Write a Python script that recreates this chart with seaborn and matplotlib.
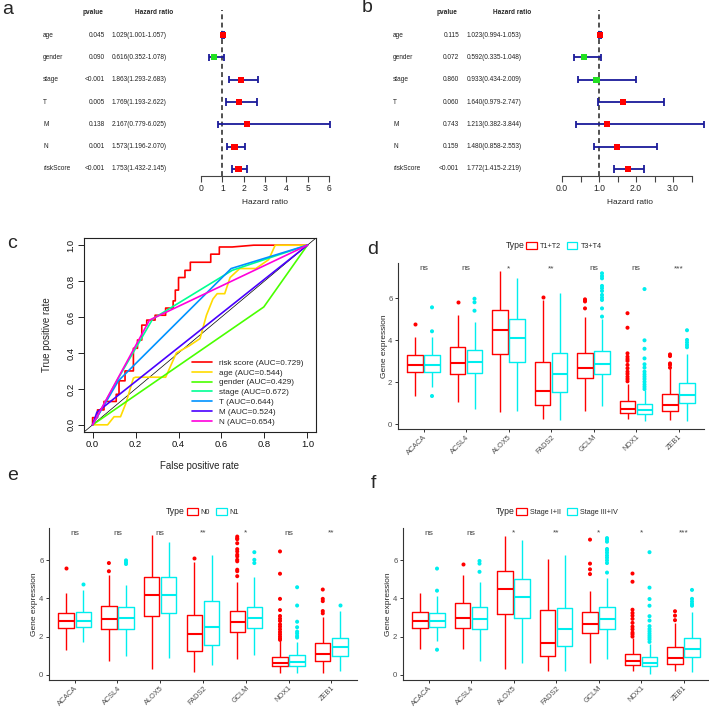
import numpy as np
import pandas as pd
import matplotlib
matplotlib.use("Agg")
import matplotlib.pyplot as plt
import matplotlib.transforms as mtrans
from matplotlib.patches import Patch
from matplotlib.lines import Line2D
import seaborn as sns

# ------------------------------------------------------------------ data
FOREST_VARS = ["age", "gender", "stage", "T", "M", "N", "riskScore"]
A_PVAL = ["0.045", "0.090", "<0.001", "0.005", "0.138", "0.001", "<0.001"]
A_HR = [1.029, 0.616, 1.863, 1.769, 2.167, 1.573, 1.753]
A_LO = [1.001, 0.352, 1.293, 1.193, 0.779, 1.196, 1.432]
A_HI = [1.057, 1.078, 2.683, 2.622, 6.025, 2.070, 2.145]
B_PVAL = ["0.115", "0.072", "0.860", "0.060", "0.743", "0.159", "<0.001"]
B_HR = [1.023, 0.592, 0.933, 1.640, 1.213, 1.480, 1.772]
B_LO = [0.994, 0.335, 0.434, 0.979, 0.382, 0.858, 1.415]
B_HI = [1.053, 1.048, 2.009, 2.747, 3.844, 2.553, 2.219]
A_TICKS = [0, 1, 2, 3, 4, 5, 6]
A_TICKLABELS = ["0", "1", "2", "3", "4", "5", "6"]
B_TICKS = [0, 0.5, 1.0, 1.5, 2.0, 2.5, 3.0, 3.5]
B_TICKLABELS = ["0.0", "", "1.0", "", "2.0", "", "3.0", ""]

ROC_LABELS = ["risk score (AUC=0.729)", "age (AUC=0.544)", "gender (AUC=0.429)",
              "stage (AUC=0.672)", "T (AUC=0.644)", "M (AUC=0.524)", "N (AUC=0.654)"]
ROC_COLORS = ["#FF0000", "#FFDB00", "#49FF00", "#00FF92", "#0092FF", "#4900FF", "#FF00DB"]
RISK_FPR = [0, 0, 0.023, 0.023, 0.053, 0.053, 0.11, 0.11, 0.123, 0.123, 0.151, 0.151,
            0.19, 0.19, 0.209, 0.209, 0.229, 0.229, 0.252, 0.252, 0.291, 0.291, 0.34,
            0.34, 0.375, 0.375, 0.385, 0.385, 0.40, 0.40, 0.43, 0.43, 0.455, 0.455,
            0.55, 0.55, 0.59, 0.59, 0.65, 0.75, 1.0]
RISK_TPR = [0, 0.04, 0.04, 0.083, 0.083, 0.13, 0.13, 0.17, 0.17, 0.245, 0.245, 0.30,
            0.30, 0.426, 0.426, 0.472, 0.472, 0.555, 0.555, 0.583, 0.583, 0.61, 0.61,
            0.65, 0.65, 0.69, 0.69, 0.75, 0.75, 0.82, 0.82, 0.86, 0.86, 0.905, 0.905,
            0.95, 0.95, 0.99, 0.99, 1.0, 1.0]
AGE_FPR = [0, 0.07, 0.1, 0.13, 0.155, 0.19, 0.2, 0.34, 0.39, 0.45, 0.5, 0.53, 0.56,
           0.58, 0.615, 0.64, 0.685, 0.76, 0.82, 0.85, 1.0]
AGE_TPR = [0, 0, 0.045, 0.045, 0.12, 0.26, 0.265, 0.265, 0.4, 0.44, 0.48, 0.61, 0.70,
           0.73, 0.73, 0.82, 0.87, 0.87, 0.92, 1.0, 1.0]
GENDER_FPR = [0, 0.797, 1.0]
GENDER_TPR = [0, 0.656, 1.0]
STAGE_FPR = [0, 0.12, 0.28, 0.65, 1.0]
STAGE_TPR = [0, 0.26, 0.59, 0.86, 1.0]
T_FPR = [0, 0.12, 0.645, 1.0]
T_TPR = [0, 0.245, 0.87, 1.0]
M_FPR = [0, 0.02, 1.0]
M_TPR = [0, 0.07, 1.0]
N_FPR = [0, 0.265, 1.0]
N_TPR = [0, 0.583, 1.0]

GENES = ["ACACA", "ACSL4", "ALOX5", "FADS2", "GCLM", "NOX1", "ZEB1"]
# box stats per gene: (lower whisker, Q1, median, Q3, upper whisker)
D_T12_STATS = [(1.37, 2.48, 2.84, 3.30, 4.17), (1.08, 2.41, 2.92, 3.67, 5.21),
               (0.60, 3.33, 4.49, 5.46, 7.30), (0.24, 0.92, 1.60, 2.98, 5.92),
               (0.65, 2.22, 2.70, 3.41, 5.10), (0.24, 0.52, 0.73, 1.13, 1.90),
               (0.19, 0.63, 0.92, 1.43, 2.67)]
D_T12_OUT = [[4.76], [5.84], [], [6.08], [5.52, 5.85, 5.90, 5.95],
             [2.05, 2.16, 2.27, 2.40, 2.51, 2.67, 2.83, 3.02, 3.11, 3.22, 3.38, 4.60, 5.29],
             [2.70, 2.83, 2.90, 3.25, 3.33]]
D_T34_STATS = [(1.79, 2.51, 2.84, 3.29, 4.17), (0.73, 2.44, 2.98, 3.52, 4.86),
               (0.63, 2.98, 4.10, 5.02, 6.95), (0.21, 1.54, 2.40, 3.41, 6.24),
               (0.87, 2.41, 2.89, 3.48, 5.00), (0.14, 0.49, 0.67, 0.95, 1.63),
               (0.17, 1.00, 1.40, 1.97, 3.35)]
D_T34_OUT = [[1.35, 4.43, 5.57], [5.41, 5.81, 5.98], [], [],
             [5.13, 5.52, 5.92, 6.03, 6.16, 6.35, 6.48, 6.59, 6.95, 7.06, 7.19],
             [1.68, 1.79, 1.90, 2.03, 2.16, 2.27, 2.38, 2.51, 2.70, 2.86, 3.14, 3.60, 4.00, 6.44],
             [3.67, 3.78, 3.90, 4.02, 4.48]]
D_SIG = ["ns", "ns", "*", "**", "ns", "ns", "***"]

E_N0_STATS = [(1.30, 2.43, 2.83, 3.23, 4.30), (0.70, 2.42, 2.94, 3.58, 5.25),
              (0.30, 3.08, 4.16, 5.11, 7.34), (0.12, 1.23, 2.14, 3.15, 5.90),
              (0.82, 2.24, 2.77, 3.32, 4.85), (0.07, 0.43, 0.61, 0.94, 1.95),
              (0.10, 0.70, 1.10, 1.67, 3.03)]
E_N0_OUT = [[5.60], [5.43, 5.86], [], [6.12],
            [5.17, 5.43, 5.51, 5.95, 6.03, 6.21, 6.30, 6.47, 6.59, 6.90, 7.11, 7.16, 7.25],
            [1.83, 1.90, 2.00, 2.12, 2.24, 2.38, 2.52, 2.64, 2.82, 2.94, 3.08, 3.39, 3.98, 5.30, 6.47],
            [3.22, 3.34, 3.86, 3.98, 4.47]]
E_N1_STATS = [(1.74, 2.52, 2.82, 3.30, 4.43), (0.96, 2.38, 2.97, 3.55, 4.70),
              (0.87, 3.25, 4.17, 5.11, 6.94), (0.52, 1.58, 2.52, 3.88, 6.30),
              (1.04, 2.43, 2.97, 3.55, 5.13), (0.07, 0.47, 0.64, 1.01, 1.69),
              (0.19, 0.97, 1.43, 1.95, 3.32)]
E_N1_OUT = [[4.78], [5.81, 5.90, 6.00], [], [], [5.86, 6.03, 6.43],
            [1.95, 2.03, 2.16, 2.26, 2.49, 2.78, 3.63, 4.59], [3.67]]
E_SIG = ["ns", "ns", "ns", "**", "*", "ns", "**"]

F_I_STATS = [(1.34, 2.45, 2.84, 3.31, 4.28), (1.34, 2.43, 3.00, 3.76, 5.22),
             (0.31, 3.21, 4.52, 5.45, 7.29), (0.19, 0.97, 1.64, 3.38, 6.05),
             (0.62, 2.21, 2.66, 3.29, 4.41), (0.17, 0.52, 0.71, 1.07, 1.95),
             (0.17, 0.55, 0.90, 1.47, 2.72)]
F_I_OUT = [[], [5.83], [], [], [5.28, 5.53, 5.83, 7.09],
           [2.00, 2.12, 2.21, 2.38, 2.52, 2.72, 2.93, 3.10, 3.24, 3.41, 4.88, 5.31],
           [2.86, 3.10, 3.33]]
F_III_STATS = [(1.78, 2.52, 2.83, 3.22, 4.15), (0.74, 2.38, 2.93, 3.53, 4.84),
               (0.60, 2.98, 4.07, 5.03, 7.07), (0.17, 1.52, 2.40, 3.50, 6.26),
               (0.83, 2.38, 2.90, 3.53, 5.10), (0.05, 0.45, 0.60, 0.91, 1.60),
               (0.14, 0.91, 1.34, 1.90, 3.29)]
F_III_OUT = [[1.31, 4.41, 5.57], [5.40, 5.83, 5.97], [], [],
             [5.36, 5.86, 6.00, 6.14, 6.26, 6.40, 6.52, 6.60, 6.98, 7.09, 7.17],
             [1.72, 1.85, 1.95, 2.05, 2.16, 2.28, 2.40, 2.55, 2.84, 3.07, 3.62, 3.97, 4.57, 6.43],
             [3.62, 3.71, 3.84, 3.98, 4.45]]
F_SIG = ["ns", "ns", "*", "**", "*", "*", "***"]

BOX_Y_TICKS = [0, 2, 4, 6]

# ------------------------------------------------------------------ style
sns.set_style("white")
plt.rcParams["font.family"] = ["Liberation Sans", "DejaVu Sans"]

W, H = 709, 707
fig = plt.figure(figsize=(W / 100, H / 100), dpi=100)
fig.patch.set_facecolor("white")


def add_ax(l, t, r, b):
    return fig.add_axes([l / W, 1 - b / H, (r - l) / W, (b - t) / H])


def ftext(x, y, s, **kw):
    fig.text(x / W, 1 - y / H, s, **kw)


RED = "#FF0000"
CYAN = "#00EEEE"
FOREST_BAR = "#1A1A9A"

# ------------------------------------------------------------------ forest plots
def forest(box, xlim, bounds, ticks, ticklabels, pvals, hr, lo, hi,
           name_x, p_x, hr_x, head_p_x, head_hr_x, xlabel_x):
    ax = add_ax(*box)
    n = len(FOREST_VARS)
    ypos = np.arange(n, 0, -1)
    df = pd.DataFrame({"var": FOREST_VARS, "hr": hr, "lo": lo, "hi": hi, "y": ypos})
    df["dir"] = np.where(df["hr"] > 1, "up", "down")
    ax.plot([1, 1], [0.686, 8.1], ls=(0, (3.2, 2.2)), color="#222222", lw=1.1, zorder=1)
    ax.hlines(df["y"], df["lo"], df["hi"], color=FOREST_BAR, lw=1.3, zorder=2, clip_on=False)
    ax.vlines(df["lo"], df["y"] - 0.17, df["y"] + 0.17, color=FOREST_BAR, lw=1.3, clip_on=False)
    ax.vlines(df["hi"], df["y"] - 0.17, df["y"] + 0.17, color=FOREST_BAR, lw=1.3, clip_on=False)
    sns.scatterplot(data=df, x="hr", y="y", hue="dir",
                    palette={"up": "#FF0000", "down": "#22E022"},
                    marker="s", s=20, linewidth=0, legend=False, ax=ax, zorder=3,
                    clip_on=False)
    ax.set_xlim(*xlim)
    ax.set_ylim(0.686, 8.21)
    for sp in ["top", "right", "left"]:
        ax.spines[sp].set_visible(False)
    ax.spines["bottom"].set_bounds(*bounds)
    ax.spines["bottom"].set_color("#444444")
    ax.spines["bottom"].set_linewidth(0.8)
    ax.set_yticks([])
    ax.set_xticks(ticks)
    ax.set_xticklabels(ticklabels)
    ax.tick_params(axis="x", direction="out", length=4.5, width=0.8, color="#444444",
                   labelsize=6.2, pad=1.5, labelcolor="#222222", bottom=True)
    ax.set_xlabel("")
    ax.set_ylabel("")
    tr = mtrans.blended_transform_factory(fig.transFigure, ax.transData)
    fs = 4.7
    for i in range(n):
        y = ypos[i]
        ax.text(name_x / W, y, FOREST_VARS[i], transform=tr, ha="left", va="center",
                fontsize=fs, color="#222222")
        ax.text(p_x / W, y, pvals[i], transform=tr, ha="right", va="center",
                fontsize=fs, color="#222222")
        ax.text(hr_x / W, y, f"{hr[i]:.3f}({lo[i]:.3f}-{hi[i]:.3f})", transform=tr,
                ha="left", va="center", fontsize=fs, color="#222222")
    ax.text(head_p_x / W, 7.99, "pvalue", transform=tr, ha="center", va="center",
            fontsize=fs, fontweight="bold")
    ax.text(head_hr_x / W, 7.99, "Hazard ratio", transform=tr, ha="center", va="center",
            fontsize=fs, fontweight="bold")
    ftext(xlabel_x, 203, "Hazard ratio", ha="center", va="center", fontsize=6)
    return ax


forest((201, 8, 329, 176), (0, 6), (0, 6), A_TICKS, A_TICKLABELS, A_PVAL, A_HR, A_LO, A_HI,
       name_x=43, p_x=105, hr_x=112, head_p_x=93, head_hr_x=154, xlabel_x=265)
forest((562, 8, 705, 176), (0, 3.86), (0, 3.5), B_TICKS, B_TICKLABELS, B_PVAL, B_HR, B_LO, B_HI,
       name_x=393, p_x=459, hr_x=467, head_p_x=447, head_hr_x=512, xlabel_x=630)

# ------------------------------------------------------------------ ROC
axc = add_ax(84, 238, 316, 432)
axc.axline((0, 0), (1, 1), color="black", lw=0.5, zorder=1)
roc_sets = [(RISK_FPR, RISK_TPR), (AGE_FPR, AGE_TPR), (GENDER_FPR, GENDER_TPR),
            (STAGE_FPR, STAGE_TPR), (T_FPR, T_TPR), (M_FPR, M_TPR), (N_FPR, N_TPR)]
handles = []
for (fx, fy), col, lab in zip(roc_sets, ROC_COLORS, ROC_LABELS):
    sns.lineplot(x=fx, y=fy, sort=False, estimator=None, color=col, lw=1.2, ax=axc)
    handles.append(Line2D([0], [0], color=col, lw=1.2))
axc.set_xlim(-0.04, 1.04)
axc.set_ylim(-0.04, 1.04)
axc.set_xticks([0, 0.2, 0.4, 0.6, 0.8, 1.0])
axc.set_xticklabels(["0.0", "0.2", "0.4", "0.6", "0.8", "1.0"])
axc.set_yticks([0, 0.2, 0.4, 0.6, 0.8, 1.0])
axc.set_yticklabels(["0.0", "0.2", "0.4", "0.6", "0.8", "1.0"], rotation=90, va="center")
axc.tick_params(direction="out", length=4, width=0.7, labelsize=6.8, pad=2,
                bottom=True, left=True, color="#222222", labelcolor="#111111")
for sp in axc.spines.values():
    sp.set_color("#222222")
    sp.set_linewidth(0.8)
axc.set_xlabel("")
axc.set_ylabel("")
ftext(199, 466, "False positive rate", ha="center", va="center", fontsize=7)
ftext(47, 335, "True positive rate", ha="center", va="center", fontsize=7, rotation=90)
fig.legend(handles, ROC_LABELS, loc="upper left", bbox_to_anchor=(192 / W, 1 - 359 / H),
           frameon=False, fontsize=5.9, handlelength=2.4, handletextpad=0.9,
           labelspacing=0.26, borderpad=0, borderaxespad=0)

# ------------------------------------------------------------------ box plots
def box_panel(box, stats_a, out_a, stats_b, out_b, levels, sig, ylim,
              type_x, legend_x, legend_y, ylabel_x):
    ax = add_ax(*box)
    rows = []
    for gi, g in enumerate(GENES):
        for lvl, stats in ((levels[0], stats_a), (levels[1], stats_b)):
            wlo, q1, med, q3, whi = stats[gi]
            for v in (wlo, q1, q1, med, q3, q3, whi):
                rows.append((g, lvl, v))
    df = pd.DataFrame(rows, columns=["gene", "Type", "value"])
    orows = []
    for gi, g in enumerate(GENES):
        for lvl, outs in ((levels[0], out_a), (levels[1], out_b)):
            for v in outs[gi]:
                orows.append((g, lvl, v))
    odf = pd.DataFrame(orows, columns=["gene", "Type", "value"])
    pal = {levels[0]: RED, levels[1]: CYAN}
    sns.boxplot(data=df, x="gene", y="value", hue="Type", order=GENES, hue_order=levels,
                palette=pal, fill=False, whis=(0, 100), showfliers=False, gap=0.1,
                width=0.8, linewidth=1.0, medianprops=dict(linewidth=1.5),
                capprops=dict(visible=False), legend=False, ax=ax)
    sns.stripplot(data=odf, x="gene", y="value", hue="Type", order=GENES, hue_order=levels,
                  palette=pal, dodge=True, jitter=False, size=2.9, linewidth=0,
                  legend=False, ax=ax)
    ax.set_xlim(-0.6, 6.6)
    ax.set_ylim(*ylim)
    for i, s in enumerate(sig):
        ax.text(i, 7.42, s, ha="center", va="center", fontsize=6, color="#444444")
    for sp in ["top", "right"]:
        ax.spines[sp].set_visible(False)
    for sp in ["left", "bottom"]:
        ax.spines[sp].set_color("#333333")
        ax.spines[sp].set_linewidth(0.8)
    ax.set_yticks(BOX_Y_TICKS)
    ax.set_yticklabels([str(t) for t in BOX_Y_TICKS])
    ax.set_xticks(range(len(GENES)))
    ax.set_xticklabels(GENES, rotation=45, ha="right", rotation_mode="anchor")
    ax.tick_params(direction="out", length=2.5, width=0.7, color="#333333",
                   labelsize=5.6, labelcolor="#4D4D4D", pad=1.5, bottom=True, left=True)
    ax.tick_params(axis="x", labelsize=5.3, pad=0.8)
    ax.set_xlabel("")
    ax.set_ylabel("")
    t, b = box[1], box[3]
    ftext(ylabel_x, (t + b) / 2, "Gene expression", rotation=90, ha="center", va="center",
          fontsize=6)
    ftext(type_x, legend_y, "Type", ha="left", va="center", fontsize=6.2)
    hs = [Patch(facecolor="white", edgecolor=RED, lw=0.9),
          Patch(facecolor="white", edgecolor=CYAN, lw=0.9)]
    fig.legend(hs, levels, loc="center left", bbox_to_anchor=(legend_x / W, 1 - legend_y / H),
               ncol=2, frameon=False, fontsize=5.2, handlelength=1.5, handleheight=1.1,
               handletextpad=0.4, columnspacing=0.8, borderpad=0, borderaxespad=0)
    return ax


box_panel((398, 263, 704, 429), D_T12_STATS, D_T12_OUT, D_T34_STATS, D_T34_OUT,
          ["T1+T2", "T3+T4"], D_SIG, (-0.22, 7.68), type_x=506, legend_x=526,
          legend_y=246, ylabel_x=384)
box_panel((49, 528, 357, 680), E_N0_STATS, E_N0_OUT, E_N1_STATS, E_N1_OUT,
          ["N0", "N1"], E_SIG, (-0.28, 7.7), type_x=166, legend_x=187,
          legend_y=512, ylabel_x=34)
box_panel((403, 528, 709, 680), F_I_STATS, F_I_OUT, F_III_STATS, F_III_OUT,
          ["Stage I+II", "Stage III+IV"], F_SIG, (-0.28, 7.7), type_x=496, legend_x=516,
          legend_y=512, ylabel_x=388)

# ------------------------------------------------------------------ panel letters
for (x, y, s) in [(8, 9, "a"), (367, 8, "b"), (12, 244, "c"),
                  (373, 250, "d"), (13, 476, "e"), (373, 483, "f")]:
    ftext(x, y, s, ha="center", va="center", fontsize=14)

fig.savefig("out.png", dpi=100, facecolor="white")
